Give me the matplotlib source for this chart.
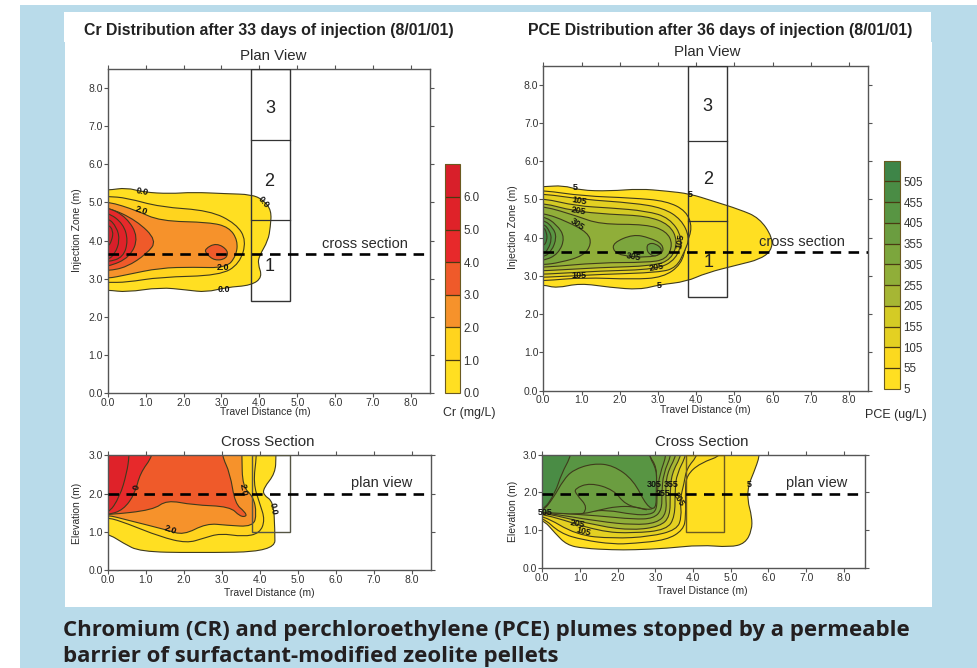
import matplotlib
matplotlib.use("Agg")
import matplotlib.pyplot as plt
from matplotlib.cm import ScalarMappable
from matplotlib.colors import BoundaryNorm, ListedColormap
from matplotlib.patches import PathPatch, Rectangle
from matplotlib.path import Path

W, H = 978, 668
plt.rcParams['font.family'] = ['Liberation Sans', 'DejaVu Sans']

# Colour classes
cr_levels = [0, 1, 2, 3, 4, 5, 6, 7]
cr_ticks = ['0.0', '1.0', '2.0', '3.0', '4.0', '5.0', '6.0']
cr_colors = ['#FFDF22', '#FFD41E', '#F6922B', '#EF5A2A', '#E7292B', '#DF2229', '#D81F2A']
pce_levels = [5, 55, 105, 155, 205, 255, 305, 355, 405, 455, 505, 555]
pce_ticks = ['5', '55', '105', '155', '205', '255', '305', '355', '405', '455', '505']
pce_colors = ['#FFDF22', '#FBD91F', '#E4D022', '#D4CB25', '#A6B634', '#90AE39', '#7CA63D',
              '#6B9D40', '#589543', '#4A8C45', '#3E8548']

# Contours: (level, x, y)
cr_plan = [
    (0, [0, .5, .94, 1.64, 2.25, 3.13, 3.79, 4.1, 4.32, 4.29, 4.23, 4.0, 3.96, 4.08, 3.79, 3.13, 2.6, 2.08, 1.38, .5, 0],
     [5.32, 5.39, 5.27, 5.23, 5.27, 5.23, 5.21, 5.07, 4.79, 4.35, 4.0, 3.6, 3.39, 3.04, 2.82, 2.77, 2.64, 2.7, 2.77, 2.64, 2.7]),
    (1, [0, .5, 1.38, 2.69, 3.39, 3.66, 3.48, 2.96, 1.38, .5, 0],
     [5.16, 5.12, 4.88, 4.79, 4.44, 4.0, 3.39, 3.08, 3.04, 2.9, 2.9]),
    (2, [0, .76, 1.38, 2.69, 3.2, 3.43, 3.39, 3.13, 2.25, 1.38, .5, 0],
     [5.03, 4.79, 4.51, 4.48, 4.35, 4.0, 3.6, 3.28, 3.3, 3.28, 3.1, 3.0]),
    (3, [0, .76, 1.3, 1.03, .5, 0], [4.88, 4.53, 4.0, 3.65, 3.3, 3.2]),
    (3, [2.56, 2.87, 3.18, 3.13, 2.82, 2.6], [3.78, 3.94, 3.74, 3.52, 3.47, 3.65]),
    (4, [0, .5, .81, .59, 0], [4.88, 4.61, 4.09, 3.56, 3.3]),
    (5, [0, .41, .54, .41, 0], [4.75, 4.44, 4.0, 3.56, 3.43]),
    (6, [0, .24, .32, .19, 0], [4.61, 4.35, 4.0, 3.65, 3.48]),
    (6, [0, .15, .11, 0], [4.44, 4.26, 4.0, 3.82]),
]
cr_cross = [
    (0, [4.43, 4.41, 4.1, 4.1, 4.36, 4.4, 4.4, 2.25, .85, .41, 0],
     [3, 2.53, 2.14, 1.96, 1.79, 1.05, .48, .45, .48, .7, .96]),
    (1, [3.92, 3.83, 4.0, 4.14, 4.0, 3.57, 2.96, 2.52, 2.08, 1.38, .5, 0],
     [3, 2.27, 1.74, 1.31, .96, .87, .96, .83, .7, .87, 1.22, 1.38]),
    (2, [3.53, 3.55, 3.83, 3.92, 3.83, 3.13, 2.6, 1.99, 1.55, .5, 0],
     [3, 2.18, 1.92, 1.48, 1.13, 1.17, 1.22, .91, 1.05, 1.31, 1.44]),
    (3, [3.0, 3.22, 3.35, 3.61, 3.66, 3.48, 3.22, 2.25, 1.55, 1.2, 0],
     [3, 2.53, 1.74, 1.52, 1.4, 1.4, 1.66, 1.7, 1.83, 1.57, 1.44]),
    (4, [1.2, .85, .72, .41, 0], [3, 2.53, 2.0, 1.57, 1.44]),
    (5, [.57, .5, .32, 0], [3, 2.53, 1.92, 1.44]),
]
pce_plan = [
    (5, [0, .52, .96, 1.74, 2.52, 3.22, 3.83, 4.43, 5.13, 5.65, 6.0, 5.96, 5.65, 5.13, 4.26, 3.74, 3.04, 2.52, 1.74, .96, .35, 0],
     [5.33, 5.37, 5.24, 5.22, 5.28, 5.22, 5.15, 4.96, 4.74, 4.52, 4.0, 3.65, 3.43, 3.3, 3.08, 2.85, 2.77, 2.64, 2.7, 2.81, 2.68, 2.77]),
    (55, [0, 1.04, 2.35, 3.22, 3.74, 3.9, 3.74, 3.61, 3.13, 2.35, 1.04, 0],
     [5.24, 5.09, 5.04, 4.96, 4.7, 4.26, 3.83, 3.3, 2.96, 2.91, 2.96, 2.87]),
    (105, [0, 1.04, 2.35, 3.13, 3.61, 3.83, 3.7, 3.48, 3.04, 1.48, 0],
     [5.15, 5.0, 4.91, 4.78, 4.48, 4.0, 3.65, 3.22, 3.09, 3.04, 2.96]),
    (155, [0, .87, 1.74, 2.7, 3.3, 3.65, 3.48, 2.96, 1.48, 0],
     [5.03, 4.83, 4.78, 4.7, 4.52, 4.0, 3.43, 3.17, 3.13, 3.04]),
    (205, [0, .78, 1.74, 2.7, 3.3, 3.52, 3.35, 2.87, 1.48, 0],
     [4.91, 4.7, 4.61, 4.57, 4.35, 3.91, 3.43, 3.26, 3.22, 3.13]),
    (255, [0, .87, 1.48, 2.7, 3.22, 3.39, 3.22, 2.7, 1.48, 0],
     [4.83, 4.57, 4.35, 4.35, 4.17, 3.83, 3.43, 3.35, 3.35, 3.22]),
    (305, [0, .61, 1.17, 1.26, 1.04, .43, 0], [4.65, 4.43, 4.13, 3.83, 3.52, 3.35, 3.29]),
    (305, [1.83, 2.35, 2.78, 3.13, 3.13, 2.7, 2.09, 1.83], [3.87, 4.09, 4.0, 3.83, 3.57, 3.48, 3.52, 3.65]),
    (355, [0, .35, .57, .39, 0], [4.57, 4.35, 4.0, 3.57, 3.39]),
    (355, [2.74, 2.94, 3.13, 2.96, 2.76, 2.7], [3.85, 3.85, 3.68, 3.5, 3.57, 3.72]),
    (405, [0, .26, .35, .22, 0], [4.48, 4.26, 4.0, 3.65, 3.48]),
    (455, [0, .17, .22, .13, 0], [4.39, 4.17, 3.96, 3.7, 3.57]),
    (505, [0, .09, .1, 0], [4.3, 4.13, 3.93, 3.76]),
]
pce_cross = [
    (5, [5.78, 5.6, 5.47, 5.44, 5.56, 5.56, 5.38, 4.98, 4.19, 3.3, 2.42, 1.88, 1.09, .65, .34, 0],
     [3, 2.5, 2.2, 1.8, 1.36, 1.0, .65, .55, .61, .52, .48, .48, .52, .61, .92, 1.31]),
    (55, [4.82, 4.19, 3.83, 3.79, 3.81, 3.74, 3.3, 2.42, 1.88, 1.09, .47, 0],
     [3, 2.78, 2.46, 2.07, 1.36, 1.01, .74, .65, .63, .74, .92, 1.36]),
    (105, [4.14, 3.83, 3.76, 3.65, 3.7, 3.57, 2.86, 1.88, .91, 0],
     [3, 2.64, 2.24, 1.8, 1.36, 1.01, .83, .78, .87, 1.41]),
    (155, [3.83, 3.57, 3.52, 3.52, 3.3, 2.42, 1.53, 0], [3, 2.5, 2.07, 1.36, 1.01, .92, .96, 1.45]),
    (205, [3.7, 3.43, 3.39, 3.39, 3.12, 2.42, 1.53, 0], [3, 2.5, 1.98, 1.36, 1.1, 1.0, 1.1, 1.48]),
    (255, [3.57, 3.3, 3.27, 3.3, 3.04, 2.42, 1.53, 0], [3, 2.5, 1.98, 1.45, 1.19, 1.14, 1.23, 1.48]),
    (305, [3.43, 3.21, 3.17, 3.17, 2.95, 2.42, 1.53, 0], [3, 2.5, 1.98, 1.54, 1.31, 1.29, 1.38, 1.48]),
    (355, [3.3, 3.12, 3.04, 3.04, 2.86, 2.42, 1.71, 1.18, .65, 0], [3, 2.5, 1.98, 1.54, 1.41, 1.41, 1.54, 1.49, 1.54, 1.48]),
    (355, [2.81, 3.04, 3.02, 2.99, 2.77, 2.42, 1.97, 1.53, 1.0, 0], [3, 2.68, 2.07, 1.58, 1.54, 1.63, 1.63, 1.54, 1.41, 1.48]),
    (405, [2.81, 3.04, 3.02, 3.02, 2.77, 2.42, 1.88, 1.35, .82, .56, .29, 0],
     [3, 2.6, 2.07, 1.54, 1.63, 2.33, 2.72, 2.77, 2.6, 2.33, 1.85, 1.48]),
    (455, [.78, .51, .34, 0], [3, 2.5, 1.98, 1.48]),
]
pce_inner_x = [1.09, 1.22, .9, .85, 1.27, 1.9, 2.2, 2.77]
pce_inner_y = [1.45, 1.6, 1.95, 2.1, 2.26, 2.07, 1.67, 1.54]

# Contour labels: text, x, y, rotation
cr_plan_labels = [('0.0', .9, 5.29, -10), ('2.0', .9, 4.79, -18), ('0.0', 4.11, 5.0, -50),
                  ('2.0', 3.03, 3.28, 0), ('0.0', 3.06, 2.72, 0)]
cr_cross_labels = [('0', .76, 2.16, 80), ('2.0', 3.57, 2.09, -80), ('0.0', 4.36, 1.61, -80), ('2.0', 1.66, 1.05, -20)]
pce_plan_labels = [('5', .83, 5.32, 0), ('105', .94, 4.96, -10), ('205', .91, 4.7, -10), ('305', .89, 4.35, -35),
                   ('305', 2.37, 3.5, -10), ('205', 2.97, 3.24, 10), ('105', .94, 3.02, 0), ('5', 3.03, 2.76, 0),
                   ('5', 3.83, 5.13, 0), ('105', 3.57, 3.91, 80)]
pce_cross_labels = [('305', 2.97, 2.2, 0), ('355', 3.43, 2.2, 0), ('255', 3.2, 1.96, 0), ('205', 3.61, 1.82, -60),
                    ('205', .94, 1.18, -10), ('105', 1.09, .96, -15), ('5', 5.49, 2.2, 0), ('505', .07, 1.48, 0)]

# Barrier zones: x0, x1, y bottom, y dividers, numbers
cr_zone = (3.79, 4.8, 2.42, [4.54, 6.63], [('3', 4.29, 7.48), ('2', 4.27, 5.55), ('1', 4.27, 3.32)])
pce_zone = (3.79, 4.8, 2.45, [4.45, 6.54], [('3', 4.28, 7.43), ('2', 4.3, 5.52), ('1', 4.32, 3.35)])


def px_axes(fig, left, right, top, bottom):
    return fig.add_axes([left / W, 1 - bottom / H, (right - left) / W, (bottom - top) / H])


def px_text(fig, x, y, s, **kw):
    kw.setdefault('ha', 'center')
    kw.setdefault('va', 'center')
    kw.setdefault('color', '#2b2b2b')
    fig.text(x / W, 1 - y / H, s, **kw)


def smooth_path(xs, ys, closed=True):
    # quadratic curves through the midpoints of the traced points
    pts = list(zip(xs, ys))
    if closed:
        if xs[0] == 0 and xs[-1] == 0:
            pts = [(-.6, ys[0])] + pts + [(-.6, ys[-1])]
        elif ys[0] == 3:
            pts = [(-.6, 3.5), (xs[0], 3.5)] + pts + [(-.6, ys[-1])]
        mid0 = ((pts[-1][0] + pts[0][0]) / 2, (pts[-1][1] + pts[0][1]) / 2)
        verts, codes = [mid0], [Path.MOVETO]
        seq = pts + [pts[0]]
        for i in range(len(seq) - 1):
            m = ((seq[i][0] + seq[i + 1][0]) / 2, (seq[i][1] + seq[i + 1][1]) / 2)
            verts += [seq[i], m]
            codes += [Path.CURVE3, Path.CURVE3]
        return Path(verts, codes)
    verts, codes = [pts[0]], [Path.MOVETO]
    for i in range(1, len(pts) - 1):
        m = ((pts[i][0] + pts[i + 1][0]) / 2, (pts[i][1] + pts[i + 1][1]) / 2)
        verts += [pts[i], m]
        codes += [Path.CURVE3, Path.CURVE3]
    verts.append(pts[-1])
    codes.append(Path.LINETO)
    return Path(verts, codes)


def draw_panel(ax, contours, cmap, norm, labels, ymax, xmax=8.5):
    ax.set_xlim(0, xmax)
    ax.set_ylim(0, ymax)
    for level, xs, ys in contours:
        ax.add_patch(PathPatch(smooth_path(xs, ys), facecolor=cmap(norm(level)),
                               edgecolor='#3f3b1c', lw=0.8, zorder=2))
    for s, x, y, rot in labels:
        ax.text(x, y, s, fontsize=6.5, fontweight='bold', color='#111111', rotation=rot,
                ha='center', va='center', zorder=4)
    ax.set_xticks(range(0, 9))
    ax.set_xticklabels([f'{v:.1f}' for v in range(0, 9)])
    ax.set_yticks(range(0, int(ymax) + 1))
    ax.set_yticklabels([f'{v:.1f}' for v in range(0, int(ymax) + 1)])
    ax.tick_params(top=True, right=True, direction='out', length=3, width=0.8, color='#555555',
                   labelsize=7.5, labelcolor='#333333', pad=0.5)
    for s in ax.spines.values():
        s.set_color('#555555')
        s.set_linewidth(1.0)


def draw_dash(ax, y):
    ax.axhline(y, color='black', lw=1.9, dashes=(4, 2.8), zorder=5)


def draw_plan_zone(ax, zone, top=8.5):
    x0, x1, y0, dividers, numbers = zone
    ax.add_patch(Rectangle((x0, y0), x1 - x0, top - y0, fill=False, ec='#333333', lw=1.0, zorder=3))
    for y in dividers:
        ax.plot([x0, x1], [y, y], color='#333333', lw=0.9, zorder=3)
    for s, x, y in numbers:
        ax.text(x, y, s, fontsize=13, color='#222222', ha='center', va='center', zorder=4)


def add_colorbar(fig, cax, cmap, norm, levels, ticks):
    cb = fig.colorbar(ScalarMappable(norm=norm, cmap=cmap), cax=cax, ticks=levels[:-1], drawedges=True, spacing='proportional')
    cb.ax.set_yticklabels(ticks)
    cb.minorticks_off()
    cb.ax.tick_params(length=0, labelsize=8.3, labelcolor='#333333', pad=2.5)
    cb.dividers.set_color('#4a3a12')
    cb.dividers.set_linewidth(0.9)
    cb.outline.set_edgecolor('#6b5a20')
    cb.outline.set_linewidth(0.8)


fig = plt.figure(figsize=(W / 100, H / 100), dpi=100, facecolor='white')

# page background
bg = fig.add_axes([0, 0, 1, 1], zorder=-1)
bg.set_xlim(0, W)
bg.set_ylim(H, 0)
bg.axis('off')
bg.add_patch(Rectangle((20, 5), W - 20, H - 5, fc='#B9DBEA', ec='none'))
bg.add_patch(Rectangle((65, 42), 867, 565, fc='white', ec='none'))
bg.add_patch(Rectangle((64, 12), 867, 30, fc='white', ec='none'))

cr_cmap = ListedColormap(cr_colors)
cr_norm = BoundaryNorm(cr_levels, cr_cmap.N)
pce_cmap = ListedColormap(pce_colors)
pce_norm = BoundaryNorm(pce_levels, pce_cmap.N)

# Cr plan view
ax = px_axes(fig, 107.7, 430, 69.3, 392.7)
draw_panel(ax, cr_plan, cr_cmap, cr_norm, cr_plan_labels, 8.5)
draw_plan_zone(ax, cr_zone)
draw_dash(ax, 3.64)
ax.text(6.79, 3.91, 'cross section', fontsize=10.5, color='#2b2b2b', ha='center', va='center', zorder=4)

# Cr cross section
ax = px_axes(fig, 107.7, 430.7, 455.3, 570)
draw_panel(ax, cr_cross, cr_cmap, cr_norm, cr_cross_labels, 3)
ax.add_patch(Rectangle((3.8, 1.0), 1.0, 2.0, fill=False, ec='#555544', lw=1.0, zorder=3))
draw_dash(ax, 2.0)
ax.text(7.21, 2.27, 'plan view', fontsize=10.5, color='#2b2b2b', ha='center', va='center', zorder=4)

# PCE plan view
ax = px_axes(fig, 543.3, 868.3, 65.7, 390.6)
draw_panel(ax, pce_plan, pce_cmap, pce_norm, pce_plan_labels, 8.5)
draw_plan_zone(ax, pce_zone)
draw_dash(ax, 3.63)
ax.text(6.77, 3.9, 'cross section', fontsize=10.5, color='#2b2b2b', ha='center', va='center', zorder=4)

# PCE cross section
ax = px_axes(fig, 542.3, 865, 454.7, 568)
draw_panel(ax, pce_cross, pce_cmap, pce_norm, pce_cross_labels, 3, xmax=8.56)
ax.add_patch(PathPatch(smooth_path(pce_inner_x, pce_inner_y, closed=False), fill=False, ec='#3f3b1c', lw=0.8, zorder=2))
ax.add_patch(Rectangle((3.81, .96), 1.01, 2.04, fill=False, ec='#6b5a20', lw=1.0, zorder=3))
draw_dash(ax, 1.96)
ax.text(7.27, 2.24, 'plan view', fontsize=10.5, color='#2b2b2b', ha='center', va='center', zorder=4)

# Colour bars
add_colorbar(fig, px_axes(fig, 445, 460, 164.3, 392.7), cr_cmap, cr_norm, cr_levels, cr_ticks)
add_colorbar(fig, px_axes(fig, 884.3, 900, 160.7, 388.7), pce_cmap, pce_norm, pce_levels, pce_ticks)
px_text(fig, 469, 413, 'Cr (mg/L)', fontsize=8.9)
px_text(fig, 896, 415, 'PCE (ug/L)', fontsize=9)

# Titles and axis names
px_text(fig, 268.5, 30, 'Cr Distribution after 33 days of injection (8/01/01)', fontsize=11.4, fontweight='bold', color='#222222')
px_text(fig, 719.7, 30, 'PCE Distribution after 36 days of injection (8/01/01)', fontsize=11.4, fontweight='bold', color='#222222')
px_text(fig, 273, 56, 'Plan View', fontsize=10.8)
px_text(fig, 707, 52, 'Plan View', fontsize=10.8)
px_text(fig, 268, 442, 'Cross Section', fontsize=10.8)
px_text(fig, 702, 442, 'Cross Section', fontsize=10.8)
px_text(fig, 265, 412, 'Travel Distance (m)', fontsize=7.5)
px_text(fig, 705, 410, 'Travel Distance (m)', fontsize=7.5)
px_text(fig, 269, 593, 'Travel Distance (m)', fontsize=7.5)
px_text(fig, 702, 591, 'Travel Distance (m)', fontsize=7.5)
px_text(fig, 77, 230, 'Injection Zone (m)', fontsize=7.5, rotation=90)
px_text(fig, 513, 227, 'Injection Zone (m)', fontsize=7.5, rotation=90)
px_text(fig, 77, 513, 'Elevation (m)', fontsize=7.5, rotation=90)
px_text(fig, 513, 511, 'Elevation (m)', fontsize=7.5, rotation=90)

# Caption
px_text(fig, 63, 636, 'Chromium (CR) and perchloroethylene (PCE) plumes stopped by a permeable', fontsize=16,
        fontweight='bold', family=['Open Sans', 'DejaVu Sans'], ha='left', va='baseline', color='#231f20')
px_text(fig, 63, 662, 'barrier of surfactant-modified zeolite pellets', fontsize=16,
        fontweight='bold', family=['Open Sans', 'DejaVu Sans'], ha='left', va='baseline', color='#231f20')

fig.savefig('out.png', dpi=100)
